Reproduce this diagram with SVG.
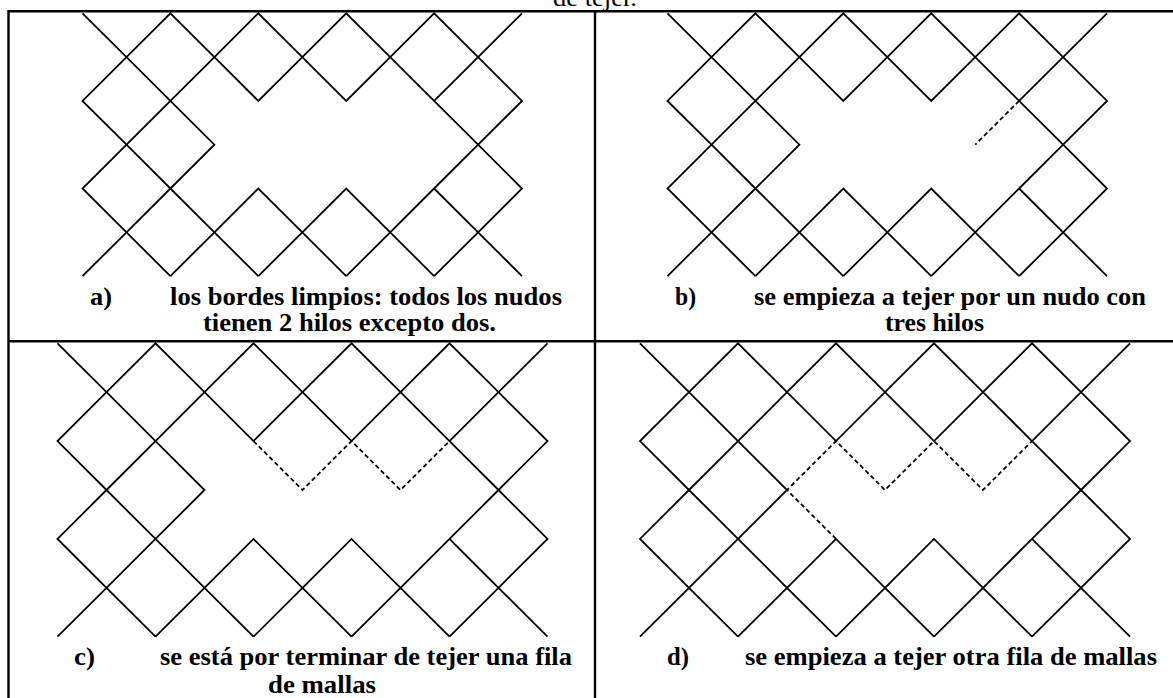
<svg xmlns="http://www.w3.org/2000/svg" xmlns:xlink="http://www.w3.org/1999/xlink" width="1173" height="698" viewBox="0 0 1173 698">
<style>
.frame{stroke:#000;stroke-width:2.4;fill:none}
.net{stroke:#000;stroke-width:1.8;fill:none;stroke-linejoin:miter}
.dash{stroke:#000;stroke-width:1.8;fill:none;stroke-dasharray:4.5 3}
.lbl{font-family:"Liberation Serif","Times New Roman",serif;font-weight:bold;font-size:25px;fill:#000}
.ttl{font-family:"Liberation Serif","Times New Roman",serif;font-size:24px;fill:#000}
</style>
<defs>
<path id="netAB" d="M82.5,13.3 L126.5,57.1 L170.4,100.9 L214.4,144.7 L170.4,188.5 L126.5,232.3 L82.5,276.1
M258.3,276.1 L214.4,232.3 L170.4,188.5 L126.5,144.7 L82.5,100.9 L126.5,57.1 L170.4,13.3 L214.4,57.1 L258.3,100.9 L302.3,57.1 L346.2,13.3 L390.2,57.1 L434.1,100.9 L478.1,144.7 L522,188.5 L478.1,232.3 L434.1,276.1
M170.4,276.1 L126.5,232.3 L82.5,188.5 L126.5,144.7 L170.4,100.9 L214.4,57.1 L258.3,13.3 L302.3,57.1 L346.2,100.9 L390.2,57.1 L434.1,13.3 L478.1,57.1 L522,100.9 L478.1,144.7 L434.1,188.5 L390.2,232.3 L346.2,276.1
M170.4,276.1 L214.4,232.3 L258.3,188.5 L302.3,232.3 L346.2,276.1
M258.3,276.1 L302.3,232.3 L346.2,188.5 L390.2,232.3 L434.1,276.1
M522,13.3 L478.1,57.1 L434.1,100.9
M434.1,188.5 L478.1,232.3 L522,276.1"/>
<path id="netCD" d="M57.5,343.3 L106.5,392.2 L155.5,441.1 L204.5,490 L155.5,538.9 L106.5,587.8 L57.5,636.7
M253.5,636.7 L204.5,587.8 L155.5,538.9 L106.5,490 L57.5,441.1 L106.5,392.2 L155.5,343.3 L204.5,392.2 L253.5,441.1 L302.5,392.2 L351.5,343.3 L400.5,392.2 L449.5,441.1 L498.5,490 L547.5,538.9 L498.5,587.8 L449.5,636.7
M155.5,636.7 L106.5,587.8 L57.5,538.9 L106.5,490 L155.5,441.1 L204.5,392.2 L253.5,343.3 L302.5,392.2 L351.5,441.1 L400.5,392.2 L449.5,343.3 L498.5,392.2 L547.5,441.1 L498.5,490 L449.5,538.9 L400.5,587.8 L351.5,636.7
M155.5,636.7 L204.5,587.8 L253.5,538.9 L302.5,587.8 L351.5,636.7
M253.5,636.7 L302.5,587.8 L351.5,538.9 L400.5,587.8 L449.5,636.7
M547.5,343.3 L498.5,392.2 L449.5,441.1
M449.5,538.9 L498.5,587.8 L547.5,636.7"/>
</defs>

<text class="ttl" x="553" y="6" textLength="84" lengthAdjust="spacingAndGlyphs">de tejer.</text>

<g id="table" class="frame">
<line x1="8.5" y1="11.3" x2="1173" y2="11.3"/>
<line x1="8.5" y1="10.1" x2="8.5" y2="698"/>
<line x1="595" y1="11.3" x2="595" y2="698"/>
<line x1="8.5" y1="341.3" x2="1173" y2="341.3"/>
</g>

<g id="panel-a">
<use xlink:href="#netAB" class="net"/>
<text class="lbl" x="90" y="305" textLength="22" lengthAdjust="spacingAndGlyphs">a)</text>
<text class="lbl" x="170" y="305" textLength="392" lengthAdjust="spacingAndGlyphs">los bordes limpios: todos los nudos</text>
<text class="lbl" x="203" y="331" textLength="293" lengthAdjust="spacingAndGlyphs">tienen 2 hilos excepto dos.</text>
</g>

<g id="panel-b">
<use xlink:href="#netAB" class="net" transform="translate(585,0)"/>
<path class="dash" d="M1019.1,100.9 L975.2,144.7"/>
<text class="lbl" x="675" y="305" textLength="21" lengthAdjust="spacingAndGlyphs">b)</text>
<text class="lbl" x="754" y="305" textLength="392" lengthAdjust="spacingAndGlyphs">se empieza a tejer por un nudo con</text>
<text class="lbl" x="885" y="331" textLength="99" lengthAdjust="spacingAndGlyphs">tres hilos</text>
</g>

<g id="panel-c">
<use xlink:href="#netCD" class="net"/>
<path class="dash" d="M253.5,441.1 L302.5,490 L351.5,441.1 L400.5,490 L449.5,441.1"/>
<text class="lbl" x="74" y="665" textLength="21" lengthAdjust="spacingAndGlyphs">c)</text>
<text class="lbl" x="160" y="665" textLength="412" lengthAdjust="spacingAndGlyphs">se está por terminar de tejer una fila</text>
<text class="lbl" x="268" y="692.5" textLength="108" lengthAdjust="spacingAndGlyphs">de mallas</text>
</g>

<g id="panel-d">
<use xlink:href="#netCD" class="net" transform="translate(582.5,0)"/>
<path class="dash" transform="translate(582.5,0)" d="M253.5,538.9 L204.5,490 L253.5,441.1 L302.5,490 L351.5,441.1 L400.5,490 L449.5,441.1"/>
<text class="lbl" x="667" y="665" textLength="22" lengthAdjust="spacingAndGlyphs">d)</text>
<text class="lbl" x="745" y="665" textLength="412" lengthAdjust="spacingAndGlyphs">se empieza a tejer otra fila de mallas</text>
</g>
</svg>
